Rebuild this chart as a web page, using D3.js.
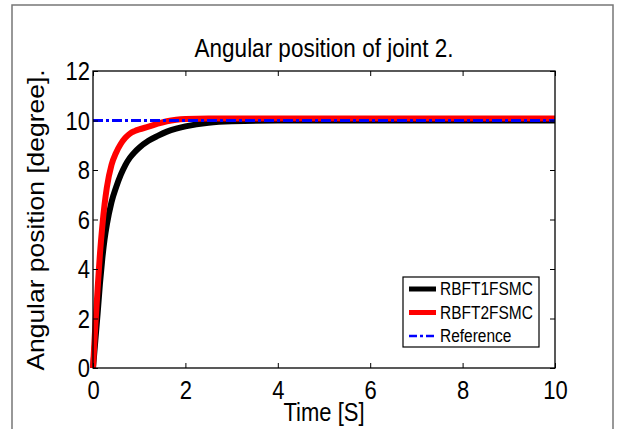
<!DOCTYPE html>
<html>
<head>
<meta charset="utf-8">
<script src="https://cdn.jsdelivr.net/npm/d3@7"></script>
<style>
body { margin: 0; background: #fff; }
text { font-family: "Liberation Sans", Arial, Helvetica, sans-serif; fill: #000; }
</style>
</head>
<body>
<div id="figure"></div>
<script>
var w = 619;
var h = 429;
var margin = { top: 71, right: 64, bottom: 61, left: 93 };
var chartWidth = w - margin.left - margin.right;
var chartHeight = h - margin.top - margin.bottom;
var stretch = 1.15; // the source picture is a bit taller than wide

// data
var time = [0, 0.05, 0.1, 0.15, 0.2, 0.25, 0.3, 0.4, 0.5, 0.6, 0.7, 0.8, 0.9, 1.0, 1.2, 1.4, 1.6, 1.8, 2.0, 2.5, 3, 4, 5, 6, 7, 8, 9, 10];
var rbft1 = [0, 1.1, 2.2, 3.4, 4.4, 5.2, 5.8, 6.7, 7.3, 7.8, 8.2, 8.5, 8.72, 8.9, 9.18, 9.38, 9.55, 9.67, 9.76, 9.91, 9.97, 10.0, 10.0, 10.0, 10.0, 10.0, 10.0, 10.0];
var rbft2 = [0, 1.7, 3.2, 4.6, 5.7, 6.6, 7.3, 8.2, 8.7, 9.05, 9.3, 9.47, 9.57, 9.64, 9.75, 9.87, 9.97, 10.03, 10.06, 10.08, 10.08, 10.08, 10.08, 10.08, 10.08, 10.08, 10.08, 10.08];
var refTime = [0, 10];
var refValue = [10, 10];
var xTicks = [0, 2, 4, 6, 8, 10];
var yTicks = [0, 2, 4, 6, 8, 10, 12];
var seriesNames = ['RBFT1FSMC', 'RBFT2FSMC', 'Reference'];

var svg = d3.select('#figure')
	.append('svg')
	.attr('width', w)
	.attr('height', h);

// outer figure frame (open at the bottom)
svg.append('path')
	.attr('d', 'M12,' + h + 'V5H613V' + h)
	.attr('fill', 'none')
	.attr('stroke', '#777')
	.attr('stroke-width', 1.5);

var chart = svg.append('g')
	.attr('transform', 'translate(' + margin.left + ',' + margin.top + ')');

var xScale = d3.scaleLinear().domain([0, 10]).range([0, chartWidth]);
var yScale = d3.scaleLinear().domain([0, 12]).range([chartHeight, 0]);

// curves
var line = d3.line()
	.curve(d3.curveMonotoneX)
	.x(function(d){ return xScale(d[0]); })
	.y(function(d){ return yScale(d[1]); });

chart.append('path')
	.datum(d3.zip(time, rbft1))
	.attr('d', line)
	.attr('fill', 'none')
	.attr('stroke', '#000')
	.attr('stroke-width', 6)
	.attr('stroke-linejoin', 'round');

chart.append('path')
	.datum(d3.zip(time, rbft2))
	.attr('d', line)
	.attr('fill', 'none')
	.attr('stroke', '#ff0000')
	.attr('stroke-width', 6)
	.attr('stroke-linejoin', 'round');

chart.append('path')
	.datum(d3.zip(refTime, refValue))
	.attr('d', line)
	.attr('fill', 'none')
	.attr('stroke', '#0000ff')
	.attr('stroke-width', 3)
	.attr('stroke-dasharray', '10,3,3,3');

// axes, MATLAB style: ticks inside on all four sides
var tickLen = 5;
chart.append('g')
	.attr('transform', 'translate(0,' + chartHeight + ')')
	.call(d3.axisBottom(xScale).tickValues(xTicks).tickSizeInner(-tickLen).tickSizeOuter(0))
	.call(function(g){
		g.select('.domain').remove();
		g.selectAll('text')
			.attr('font-size', 22)
			.attr('font-family', null)
			.attr('y', 0)
			.attr('dy', '0.71em')
			.attr('transform', 'translate(0,13) scale(1,' + stretch + ')');
	});

chart.append('g')
	.call(d3.axisTop(xScale).tickValues(xTicks).tickSizeInner(-tickLen).tickSizeOuter(0).tickFormat(''))
	.call(function(g){ g.select('.domain').remove(); });

chart.append('g')
	.call(d3.axisLeft(yScale).tickValues(yTicks).tickSizeInner(-tickLen).tickSizeOuter(0))
	.call(function(g){
		g.select('.domain').remove();
		g.selectAll('text')
			.attr('font-size', 22)
			.attr('font-family', null)
			.attr('x', 0)
			.attr('dy', '0.35em')
			.attr('transform', 'translate(-3,0) scale(1,' + stretch + ')');
	});

chart.append('g')
	.attr('transform', 'translate(' + chartWidth + ',0)')
	.call(d3.axisRight(yScale).tickValues(yTicks).tickSizeInner(-tickLen).tickSizeOuter(0).tickFormat(''))
	.call(function(g){ g.select('.domain').remove(); });

chart.selectAll('.tick line').attr('stroke', '#000');

chart.append('rect')
	.attr('width', chartWidth)
	.attr('height', chartHeight)
	.attr('fill', 'none')
	.attr('stroke', '#000')
	.attr('stroke-width', 1.3);

// labels
svg.append('text')
	.attr('transform', 'translate(' + (margin.left + chartWidth / 2) + ',57) scale(1,' + stretch + ')')
	.attr('text-anchor', 'middle')
	.attr('font-size', 22.5)
	.text('Angular position of joint 2.');

svg.append('text')
	.attr('transform', 'translate(' + (margin.left + chartWidth / 2) + ',421) scale(1,' + stretch + ')')
	.attr('text-anchor', 'middle')
	.attr('font-size', 22)
	.text('Time [S]');

svg.append('text')
	.attr('transform', 'translate(44,220) rotate(-90) scale(' + stretch + ',1)')
	.attr('text-anchor', 'middle')
	.attr('font-size', 23)
	.text('Angular position [degree].');

// legend
var legend = svg.append('g')
	.attr('transform', 'translate(403,277)');

legend.append('rect')
	.attr('width', 136)
	.attr('height', 70)
	.attr('fill', '#fff')
	.attr('stroke', '#000')
	.attr('stroke-width', 1.2);

var legendStyles = [
	{ color: '#000', width: 5, dash: null },
	{ color: '#ff0000', width: 5, dash: null },
	{ color: '#0000ff', width: 2.5, dash: '8,3,3,3' }
];

var rows = legend.selectAll('g.row')
	.data(seriesNames)
	.enter()
	.append('g')
	.attr('class', 'row')
	.attr('transform', function(d, i){ return 'translate(0,' + (12 + i * 23.5) + ')'; });

rows.append('line')
	.attr('x1', 6)
	.attr('x2', 33)
	.attr('stroke', function(d, i){ return legendStyles[i].color; })
	.attr('stroke-width', function(d, i){ return legendStyles[i].width; })
	.attr('stroke-dasharray', function(d, i){ return legendStyles[i].dash; });

rows.append('text')
	.attr('transform', 'translate(37,6) scale(1,' + stretch + ')')
	.attr('font-size', 15.5)
	.text(function(d){ return d; });
</script>
</body>
</html>
